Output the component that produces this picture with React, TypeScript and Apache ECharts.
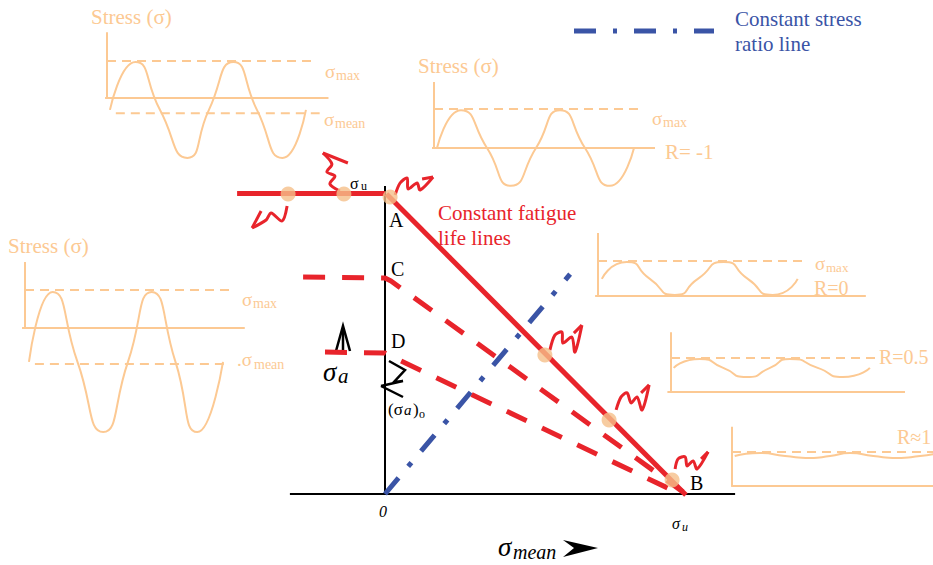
import React, { useEffect, useRef } from "react";
import * as echarts from "echarts";

const W = 933;
const H = 565;
const RED = "#e8242b";
const BLUE = "#3a54a6";
const PEACH = "#fcc993";
const DOT = "#f5bf8a";
const SERIF = '"Liberation Serif", "Times New Roman", serif';

// ---------- main Haigh diagram data (sigma_mean, sigma_a), sigma_u = 100 ----------
const axisX = [[-31.7, 0], [116.7, 0]];
const axisY = [[0, 0], [0, 102.7]];
const enduranceLine = [[-49.3, 100.2], [0, 100.2]];
const goodmanLine = [[0.5, 100], [100.3, -0.3]];
const lifeLineC = [[-27.3, 72.3], [0, 72], [2, 71], [99.3, 0.7]];
const lifeLineD = [[-20, 47.3], [0, 47], [3, 45.5], [95.7, 1.3]];
const ratioLine = [[0, 0], [61.7, 73.3]];
// test points [sigma_mean, sigma_a, squiggle glyph]
const testPoints = [
  [-32.3, 100, 0],
  [-13.7, 100, 1],
  [1.7, 99, 2],
  [53.3, 46.3, 3],
  [74.7, 24.7, 4],
  [95.7, 4.7, 5],
];

// ---------- inset stress-time sketches: [time (cycles), stress (sigma / sigma_max)] ----------
const waveA = [[0.03, -0.32], [0.29, 0.97], [0.54, -0.32], [0.82, -1.62], [1.04, -0.32], [1.29, 0.97], [1.53, -0.32], [1.79, -1.62], [2.03, -0.32]];
const waveB = [[0.03, 0], [0.27, 0.97], [0.53, 0], [0.77, -0.97], [1.02, 0], [1.26, 0.97], [1.51, 0], [1.76, -0.97], [2.0, 0]];
const waveC = [[0.04, -0.89], [0.28, 0.95], [0.53, -0.89], [0.79, -2.74], [1.04, -0.89], [1.28, 0.95], [1.52, -0.89], [1.74, -2.74], [2.0, -0.89]];
const waveD = [[0.04, 0.49], [0.3, 0.97], [0.54, 0.49], [0.8, 0.03], [1.04, 0.49], [1.31, 0.97], [1.56, 0.49], [1.82, 0.03], [2.08, 0.49]];
const waveE = [[0.03, 0.71], [0.32, 0.97], [0.58, 0.71], [0.84, 0.44], [1.1, 0.71], [1.32, 0.97], [1.63, 0.71], [1.91, 0.44], [2.21, 0.71]];
const waveF = [[0.03, 0.88], [0.31, 0.97], [0.59, 0.88], [0.87, 0.82], [1.09, 0.88], [1.31, 0.97], [1.57, 0.88], [1.83, 0.82], [2.09, 0.88], [2.31, 0.97]];

const insets = [
  { wave: waveA, hAxis: [-0.02, 2.26], vAxis: 1.78, maxLine: [0, 2.12], meanLine: [0.09, 2.17, -0.41], smooth: 0.6 },
  { wave: waveB, hAxis: [-0.02, 2.21], vAxis: 1.69, maxLine: [0, 2.08], meanLine: null, smooth: 0.6 },
  { wave: waveC, hAxis: [-0.03, 2.22], vAxis: 1.74, maxLine: [0, 2.09], meanLine: [0.1, 2.05, -0.95], smooth: 0.6 },
  { wave: waveD, hAxis: [-0.03, 2.79], vAxis: 1.8, maxLine: [0, 2.18], meanLine: null, smooth: 0.7 },
  { wave: waveE, hAxis: [-0.04, 2.6], vAxis: 1.76, maxLine: [0, 2.29], meanLine: null, smooth: 0.7 },
  { wave: waveF, hAxis: [-0.01, 2.24], vAxis: 1.74, maxLine: [0, 2.24], meanLine: null, smooth: 0.6 },
];

// ---------- layout: [originX px, originY px, px per x unit, px per y unit] ----------
const frames = [
  [385, 494, 3, 3], // main
  [107, 98, 98, 37],
  [434, 148, 100, 39],
  [25, 328, 99, 38],
  [598, 296, 96, 35],
  [671, 392, 90, 34],
  [732, 486, 90, 34],
];

// squiggle glyphs (pixel offsets from their test point): path + arrow barb
const GLYPHS = [
  { path: [[-1, 12], [-6, 27], [-17, 19], [-22, 26], [-36, 34]], barb: [-27, 17] },
  { path: [[-4, -3], [-14, -10], [-9, -18], [-17, -22], [-12, -30], [-21, -41]], barb: [4, -31] },
  { path: [[5, -2], [10, -14], [17, -19], [18, -8], [27, -14], [30, -7], [43, -20]], barb: [32, -18] },
  { path: [[5, -5], [10, -20], [17, -23], [18, -12], [27, -18], [30, -3], [37, -30]], barb: [29, -22] },
  { path: [[7, -10], [12, -23], [18, -27], [22, -17], [28, -23], [33, -10], [40, -35]], barb: [32, -27] },
  { path: [[3, -11], [6, -21], [13, -23], [15, -14], [21, -19], [25, -11], [36, -28]], barb: [29, -21] },
];

function txt(text: string, x: number, y: number, size: number, fill: string, italic = false) {
  return {
    type: "text",
    x,
    y,
    z: 100,
    silent: true,
    style: {
      text,
      fill,
      fontSize: size,
      fontFamily: SERIF,
      fontStyle: italic ? "italic" : "normal",
      align: "left",
      verticalAlign: "middle",
    },
  };
}

function lineSeries(gi: number, data: number[][], color: string, width: number, type: any, extra: any = {}) {
  return {
    type: "line",
    xAxisIndex: gi,
    yAxisIndex: gi,
    data,
    symbol: "none",
    silent: true,
    lineStyle: { color, width, type, cap: "butt" },
    ...extra,
  };
}

export default function App() {
  const ref = useRef<HTMLDivElement>(null);
  useEffect(() => {
    if (!ref.current) return;
    const chart = echarts.init(ref.current, null, { renderer: "svg" });

    const grid = frames.map(() => ({ left: 0, top: 0, width: W, height: H }));
    const xAxis = frames.map(([ox, , ux], i) => ({
      type: "value", gridIndex: i, show: false, min: -ox / ux, max: (W - ox) / ux,
    }));
    const yAxis = frames.map(([, oy, , uy], i) => ({
      type: "value", gridIndex: i, show: false, min: -(H - oy) / uy, max: oy / uy,
    }));

    const series: any[] = [];
    insets.forEach((ins, k) => {
      const gi = k + 1;
      series.push(lineSeries(gi, [[ins.hAxis[0], 0], [ins.hAxis[1], 0]], PEACH, 2, "solid"));
      series.push(lineSeries(gi, [[0, 0], [0, ins.vAxis]], PEACH, 2, "solid"));
      series.push(lineSeries(gi, [[ins.maxLine[0], 1], [ins.maxLine[1], 1]], PEACH, 2, [9, 6]));
      if (ins.meanLine) {
        const m = ins.meanLine;
        series.push(lineSeries(gi, [[m[0], m[2]], [m[1], m[2]]], PEACH, 2, [9, 6]));
      }
      series.push(lineSeries(gi, ins.wave, PEACH, 2, "solid", { smooth: ins.smooth }));
    });

    series.push(lineSeries(0, axisX, "#000", 2, "solid"));
    series.push(lineSeries(0, axisY, "#000", 2, "solid"));
    series.push(lineSeries(0, ratioLine, BLUE, 5, [21, 15, 5, 15]));
    series.push(lineSeries(0, lifeLineC, RED, 5, [22, 17]));
    series.push(lineSeries(0, lifeLineD, RED, 5, [22, 17]));
    series.push(lineSeries(0, enduranceLine, RED, 5, "solid"));
    series.push(lineSeries(0, goodmanLine, RED, 5, "solid"));
    series.push({
      type: "custom",
      xAxisIndex: 0,
      yAxisIndex: 0,
      silent: true,
      data: testPoints,
      z: 3,
      renderItem: (_p: any, api: any) => {
        const c = api.coord([api.value(0), api.value(1)]);
        const g = GLYPHS[api.value(2)];
        const pts = g.path.map(([dx, dy]) => [c[0] + dx, c[1] + dy]);
        const tip = pts[pts.length - 1];
        return {
          type: "group",
          children: [
            { type: "polyline", shape: { points: pts, smooth: 0.3 }, style: { stroke: RED, lineWidth: 3, fill: "none" } },
            { type: "line", shape: { x1: tip[0], y1: tip[1], x2: c[0] + g.barb[0], y2: c[1] + g.barb[1] }, style: { stroke: RED, lineWidth: 3 } },
          ],
        };
      },
    });
    series.push({
      type: "scatter",
      xAxisIndex: 0,
      yAxisIndex: 0,
      data: testPoints.map((p) => [p[0], p[1]]),
      symbol: "circle",
      symbolSize: 15,
      itemStyle: { color: DOT },
      silent: true,
      z: 4,
    });

    const graphic: any[] = [
      // legend
      { type: "line", shape: { x1: 574, y1: 31, x2: 714, y2: 31 }, style: { stroke: BLUE, lineWidth: 5, lineDash: [22, 17, 4, 17] } },
      txt("Constant stress", 735, 19, 21, BLUE),
      txt("ratio line", 735, 44, 21, BLUE),
      txt("Constant fatigue", 438, 213, 21, RED),
      txt("life lines", 438, 238, 21, RED),
      // inset A
      txt("Stress (σ)", 91, 17, 21, PEACH),
      txt("σ", 325, 71, 19, PEACH),
      txt("max", 336, 75, 14, PEACH),
      txt("σ", 324, 119, 19, PEACH),
      txt("mean", 335, 123, 14, PEACH),
      // inset B
      txt("Stress (σ)", 418, 66, 21, PEACH),
      txt("σ", 652, 118, 19, PEACH),
      txt("max", 663, 122, 14, PEACH),
      txt("R= -1", 665, 152, 21, PEACH),
      // inset C
      txt("Stress (σ)", 8, 246, 21, PEACH),
      txt("σ", 242, 299, 19, PEACH),
      txt("max", 253, 303, 14, PEACH),
      txt(".σ", 237, 359, 19, PEACH),
      txt("mean", 254, 364, 14, PEACH),
      // inset D, E, F
      txt("σ", 815, 263, 19, PEACH),
      txt("max", 826, 267, 13, PEACH),
      txt("R=0", 814, 288, 20, PEACH),
      txt("R=0.5", 879, 357, 20, PEACH),
      txt("R≈1", 897, 437, 20, PEACH),
      // main labels
      txt("σ", 350, 183, 16, "#000"),
      txt("u", 361, 186, 12, "#000"),
      txt("A", 389, 220, 20, "#000"),
      txt("C", 391, 269, 20, "#000"),
      txt("D", 391, 341, 20, "#000"),
      txt("B", 690, 483, 20, "#000"),
      txt("0", 379, 511, 16, "#000", true),
      txt("σ", 672, 523, 16, "#000", true),
      txt("u", 682, 527, 12, "#000", true),
      txt("σ", 498, 547, 27, "#000", true),
      txt("mean", 513, 552, 20, "#000", true),
      txt("σ", 323, 372, 27, "#000", true),
      txt("a", 338, 376, 21, "#000", true),
      txt("(σ", 388, 409, 17, "#000"),
      txt("a", 404, 410, 15, "#000", true),
      txt(")", 413, 409, 17, "#000"),
      txt("o", 419, 414, 12, "#000"),
      // arrows
      { type: "polygon", shape: { points: [[563, 540], [598, 548], [563, 557], [574, 548]] }, style: { fill: "#000" } },
      { type: "polyline", shape: { points: [[336, 351], [343, 326], [350, 351]] }, style: { stroke: "#000", lineWidth: 2.5, fill: "none" } },
      { type: "line", shape: { x1: 343, y1: 329, x2: 343, y2: 350 }, style: { stroke: "#000", lineWidth: 2.5 } },
      { type: "polyline", shape: { points: [[389, 361], [405, 370], [394, 382], [403, 381], [381, 386]] }, style: { stroke: "#000", lineWidth: 2.5, fill: "none" } },
      { type: "line", shape: { x1: 381, y1: 386, x2: 403, y2: 397 }, style: { stroke: "#000", lineWidth: 2.5 } },
    ];

    chart.setOption({
      animation: false,
      backgroundColor: "#fff",
      grid,
      xAxis,
      yAxis,
      series,
      graphic,
    });
    return () => chart.dispose();
  }, []);
  return <div ref={ref} style={{ position: "fixed", left: 0, top: 0, width: W, height: H }} />;
}
